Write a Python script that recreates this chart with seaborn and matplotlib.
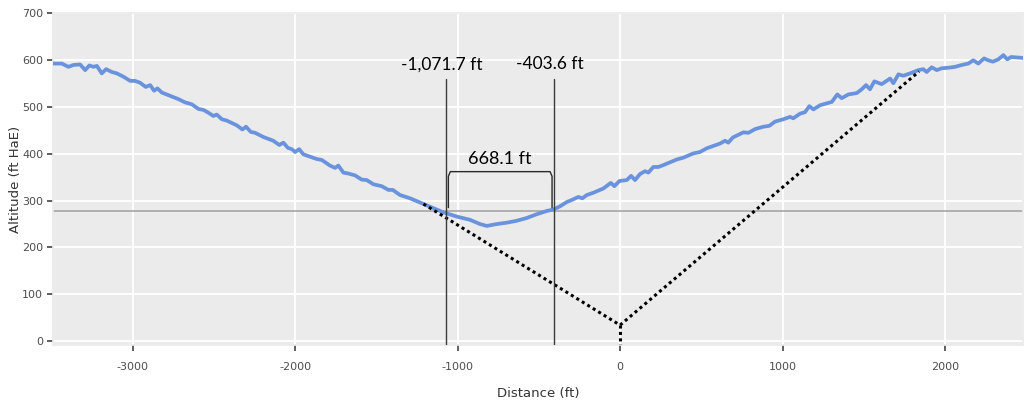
import matplotlib
matplotlib.use("Agg")
import matplotlib.pyplot as plt
import numpy as np
import pandas as pd
import seaborn as sns

# Terrain profile along the approach path
distance_ft = [
    -3488, -3436, -3395, -3364, -3323, -3292, -3266, -3241, -3220, -3190,
    -3163, -3128, -3097, -3057, -3015, -2985, -2954, -2919, -2892, -2868,
    -2847, -2820, -2769, -2718, -2677, -2636, -2595, -2564, -2534, -2503,
    -2482, -2451, -2420, -2359, -2324, -2302, -2273, -2246, -2195, -2134,
    -2097, -2072, -2045, -2020, -2000, -1975, -1949, -1908, -1867, -1836,
    -1785, -1754, -1734, -1703, -1672, -1631, -1590, -1559, -1518, -1467,
    -1426, -1399, -1354, -1292, -1210, -1149, -1087, -1005, -923, -862,
    -820, -759, -697, -636, -574, -513, -451, -410, -369, -328,
    -287, -257, -232, -205, -164, -103, -57, -35, -4, 41,
    68, 92, 123, 154, 174, 205, 236, 266, 308, 349,
    390, 451, 492, 534, 574, 615, 646, 666, 694, 718,
    759, 790, 831, 882, 919, 954, 1005, 1046, 1066, 1108,
    1138, 1165, 1190, 1231, 1272, 1303, 1337, 1364, 1405, 1457,
    1487, 1514, 1538, 1565, 1610, 1662, 1682, 1713, 1743, 1785,
    1836, 1866, 1887, 1918, 1949, 1980, 2020, 2062, 2103, 2143,
    2174, 2205, 2240, 2266, 2294, 2328, 2359, 2383, 2406, 2441,
    2482,
]
altitude_ft = [
    593, 593, 586, 590, 591, 579, 589, 586, 588, 572,
    581, 575, 572, 565, 556, 556, 552, 543, 547, 535,
    540, 531, 524, 517, 510, 506, 496, 494, 488, 481,
    484, 474, 471, 461, 452, 458, 447, 445, 436, 428,
    419, 424, 413, 410, 404, 410, 399, 394, 389, 387,
    375, 370, 375, 360, 358, 354, 345, 344, 335, 331,
    323, 323, 312, 305, 293, 284, 275, 266, 259, 250,
    246, 250, 253, 257, 263, 271, 278, 281, 288, 297,
    303, 308, 305, 312, 317, 326, 338, 331, 342, 344,
    353, 344, 357, 363, 360, 372, 372, 376, 382, 388,
    392, 401, 404, 412, 417, 422, 428, 424, 435, 439,
    446, 445, 453, 458, 460, 469, 474, 479, 476, 486,
    489, 502, 495, 504, 508, 511, 527, 519, 527, 530,
    538, 547, 538, 555, 549, 561, 551, 570, 567, 572,
    579, 581, 575, 585, 579, 583, 584, 586, 590, 593,
    600, 593, 604, 600, 597, 602, 611, 602, 607, 606,
    605,
]

# Glide path: touchdown point and its two legs
glide_x = [-1210, 0, 1840]
glide_y = [293, 34, 576]

# Measured points and the span between them
marker_x = [-1071.7, -403.6]
marker_labels = ["-1,071.7 ft", "-403.6 ft"]
span_label = "668.1 ft"

reference_alt = 278

x_ticks = [-3000, -2000, -1000, 0, 1000, 2000]
y_ticks = [0, 100, 200, 300, 400, 500, 600, 700]

sns.set_theme(style="darkgrid", rc={
    "axes.facecolor": "#EBEBEB",
    "grid.color": "white",
    "grid.linewidth": 1.3,
    "axes.edgecolor": "#EBEBEB",
})
narrow = ["Liberation Sans Narrow", "DejaVu Sans"]
label_font = ["Lato", "DejaVu Sans"]

fig = plt.figure(figsize=(10.29, 4.07), dpi=100)
ax = fig.add_axes([0.0515, 0.1523, 0.9427, 0.8157])

profile = pd.DataFrame({"Distance (ft)": distance_ft, "Altitude": altitude_ft})
sns.lineplot(data=profile, x="Distance (ft)", y="Altitude", ax=ax,
             color="#6A93DE", linewidth=2.7, zorder=4)

ax.set_xlim(-3490, 2480)
ax.set_ylim(-8.5, 701)

# reference altitude
ax.axhline(reference_alt, color="#A6A6A6", linewidth=1.2, zorder=2)

# glide path (dotted) and vertical drop to the runway point
ax.plot(glide_x, glide_y, color="black", linestyle=(0, (1, 1.1)),
        linewidth=2.2, zorder=5)
ax.plot([glide_x[1], glide_x[1]], [glide_y[1], -8.5], color="black",
        linestyle=(0, (1, 1.1)), linewidth=2.2, zorder=5)

# measurement markers
for mx, lab, dx in zip(marker_x, marker_labels, [-25, -30]):
    ax.plot([mx, mx], [-8.5, 560], color="#3A3A3A", linewidth=1.0, zorder=6)
    ax.text(mx + dx, 591, lab, ha="center", va="center", fontsize=12.5,
            family=label_font, color="black", zorder=7)

# bracket spanning the two markers
bx0, bx1 = marker_x[0] + 15, marker_x[1] - 15
ax.plot([bx0, bx0, bx0 + 12, bx1 - 12, bx1, bx1],
        [285, 352, 362, 362, 352, 285],
        color="#2A2A2A", linewidth=1.0, zorder=6, solid_joinstyle="round")
ax.text((marker_x[0] + marker_x[1]) / 2, 389, span_label, ha="center",
        va="center", fontsize=13, family=label_font, color="black", zorder=7)

ax.set_xticks(x_ticks)
ax.set_xticklabels([str(v) for v in x_ticks], family=narrow, fontsize=8,
                   color="#4D4D4D")
ax.set_yticks(y_ticks)
ax.set_yticklabels([str(v) for v in y_ticks], family=narrow, fontsize=8,
                   color="#4D4D4D")
ax.tick_params(axis="both", which="major", bottom=True, left=True,
               length=4, width=1.1, color="#333333")
ax.tick_params(axis="y", pad=3)
ax.tick_params(axis="x", pad=8)

ax.set_xlabel("Distance (ft)", family=narrow, fontsize=9.5, color="#333333",
              labelpad=11)
ax.set_ylabel("")
fig.text(0.0146, 0.56, "Altitude (ft HaE)", rotation=90, ha="center",
         va="center", family=["DejaVu Sans"], fontsize=9.5, color="#333333")

fig.savefig("out.png", dpi=100)
